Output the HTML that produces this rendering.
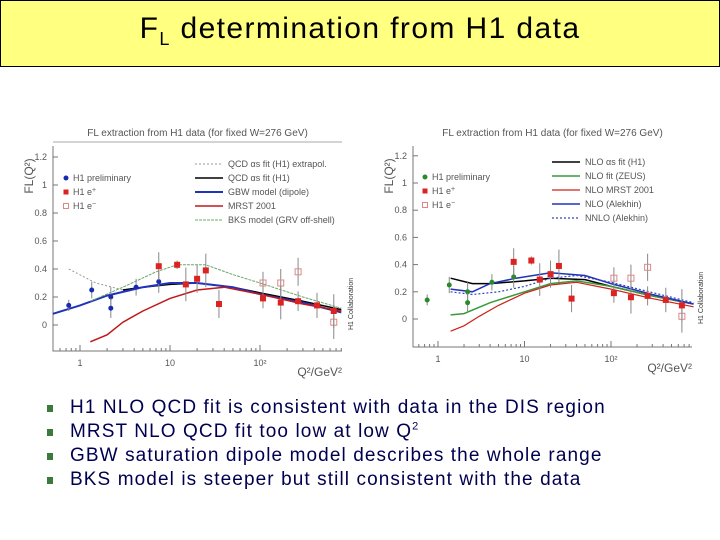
<!DOCTYPE html>
<html><head><meta charset="utf-8"><style>
body{margin:0;background:#fff;width:720px;height:540px;overflow:hidden;font-family:"Liberation Sans",sans-serif}
#hdr{position:absolute;left:0;top:0;width:718px;height:65px;background:#ffff80;border:1px solid #000}
#hdr span{position:absolute;left:0;width:100%;top:11px;text-align:center;font-size:30px;letter-spacing:1.4px;color:#000}
#bul{position:absolute;left:45px;top:396px;color:#000050;font-size:19px;letter-spacing:1.1px;line-height:24px}
.b{position:relative;padding-left:25px}
.b i{position:absolute;left:2px;top:9px;width:6px;height:7px;background:#3a7a3a}
svg{position:absolute;left:0;top:0}
</style></head><body>
<div id="hdr"><span>F<sub style="font-size:18px">L</sub> determination from H1 data</span></div>
<svg id="s" width="720" height="540"></svg>
<div id="bul">
<div class="b"><i></i>H1 NLO QCD fit is consistent with data in the DIS region</div>
<div class="b"><i></i>MRST NLO QCD fit too low at low Q<sup style="font-size:11px;line-height:0">2</sup></div>
<div class="b"><i></i>GBW saturation dipole model describes the whole range</div>
<div class="b"><i></i>BKS model is steeper but still consistent with the data</div>
</div>
<script>
const prelimQ=[0.75,1.35,2.2,2.2,4.2,7.5];
const prelimF=[0.14,0.25,0.20,0.12,0.27,0.31];
const prelimE=[0.04,0.06,0.07,0.07,0.06,0.08];
const epQ=[7.5,12,15,20,25,35,108,170,265,430,660];
const epF=[0.42,0.43,0.29,0.33,0.39,0.15,0.19,0.16,0.17,0.14,0.10];
const epE=[0.10,0.03,0.12,0.10,0.12,0.10,0.07,0.12,0.07,0.09,0.12];
const emQ=[108,170,265,660];
const emF=[0.30,0.30,0.38,0.02];
const emE=[0.08,0.10,0.10,0.12];
const yTicks=[0,0.2,0.4,0.6,0.8,1,1.2];
const yTickLabels=["0","0.2","0.4","0.6","0.8","1","1.2"];
const xTicks=[1,10,100];
const xTickLabels=["1","10","10²"];
// left panel curves
const L_extrapQ=[0.75,1.5,3,5];const L_extrapF=[0.40,0.30,0.25,0.27];
const L_h1Q=[3,5,10,20,50,100,300,800];const L_h1F=[0.25,0.27,0.29,0.30,0.27,0.23,0.17,0.11];
const L_gbwQ=[0.5,1,2,5,10,20,50,100,300,800];const L_gbwF=[0.08,0.14,0.21,0.27,0.30,0.30,0.27,0.22,0.16,0.09];
const L_mrstQ=[1.3,2,3,5,10,20,40,100,300,800];const L_mrstF=[-0.12,-0.07,0.02,0.10,0.19,0.25,0.27,0.22,0.15,0.10];
const L_bksQ=[1.3,3,7,12,25,50,100,300,800];const L_bksF=[0.17,0.27,0.38,0.43,0.43,0.36,0.30,0.20,0.12];
// right panel curves
const R_h1Q=[1.4,2.5,4,10,20,50,100,300,900];const R_h1F=[0.30,0.26,0.26,0.28,0.30,0.29,0.24,0.17,0.11];
const R_zeusQ=[1.4,2,4,10,20,40,100,300,900];const R_zeusF=[0.03,0.04,0.12,0.20,0.26,0.28,0.24,0.17,0.11];
const R_mrstQ=[1.4,2,3,5,10,20,40,100,300,900];const R_mrstF=[-0.09,-0.05,0.02,0.10,0.19,0.25,0.27,0.22,0.15,0.09];
const R_alekQ=[1.4,2.5,4,8,20,50,100,300,900];const R_alekF=[0.22,0.20,0.26,0.30,0.34,0.32,0.26,0.18,0.11];
const R_nnloQ=[1.4,2.5,5,10,20,40,100,900];const R_nnloF=[0.20,0.18,0.20,0.24,0.30,0.32,0.27,0.12];

const S=document.getElementById('s');const NS='http://www.w3.org/2000/svg';
function mk(t,a,p){const e=document.createElementNS(NS,t);for(const k in a)e.setAttribute(k,a[k]);(p||S).appendChild(e);return e;}
function panel(P,name){
 const g=mk('g',{});
 
 
 const X=q=>P.x1+(Math.log10(q))*P.dec, Y=v=>P.y0-v*P.ppu;
 const ax=mk('path',{d:`M${P.l},${P.top}V${P.b}H${P.r}`,stroke:'#777',fill:'none','stroke-width':1},g);
 
 yTicks.forEach((v,i)=>{mk('line',{x1:P.l,x2:P.l+5,y1:Y(v),y2:Y(v),stroke:'#777'},g);
  const t=mk('text',{x:P.l-6,y:Y(v)+3,'text-anchor':'end','font-size':9,fill:'#555'},g);t.textContent=yTickLabels[i];
  });
 for(let d=-1;d<3;d++)for(let m=1;m<10;m++){const q=m*Math.pow(10,d);const x=X(q);if(x<P.l||x>P.r)continue;
  mk('line',{x1:x,x2:x,y1:P.b,y2:P.b-(m==1?6:3),stroke:'#777'},g);}
 xTicks.forEach((q,i)=>{const t=mk('text',{x:X(q),y:P.b+15,'text-anchor':'middle','font-size':9,fill:'#555'},g);t.textContent=xTickLabels[i];
  });
 const xt=mk('text',{x:P.r,y:P.b+25,'text-anchor':'end','font-size':12,fill:'#555'},g);xt.textContent='Q²/GeV²';
 
 const yt=mk('text',{transform:`translate(${P.l-20},${P.top+30}) rotate(-90)`,'text-anchor':'middle','font-size':12,fill:'#555'},g);yt.textContent='FL(Q²)';
 
 const tt=mk('text',{x:(P.l+P.r)/2,y:P.top-10,'text-anchor':'middle','font-size':10,fill:'#555'},g);tt.textContent='FL extraction from H1 data (for fixed W=276 GeV)';
 
 if(P.rule)mk('line',{x1:P.l,x2:P.r,y1:P.top-4,y2:P.top-4,stroke:'#aaa'},g);
 const ct=mk('text',{transform:`translate(${P.collX},${P.y0+5}) rotate(-90)`,'font-size':7,fill:'#333'},g);ct.textContent='H1 Collaboration';
 
 P.curves.forEach(c=>{const d=c.q.map((q,i)=>(i?'L':'M')+X(q).toFixed(1)+','+Y(c.f[i]).toFixed(1)).join('');
  const p=mk('path',{d,stroke:c.col,fill:'none','stroke-width':c.w,'stroke-dasharray':c.dash||''},g);
  });
 function pts(Q,F,E,col,open,shape,nm){Q.forEach((q,i)=>{
  mk('line',{x1:X(q),x2:X(q),y1:Y(F[i]-E[i]),y2:Y(F[i]+E[i]),stroke:'#888'},g);
  let m;if(shape=='c')m=mk('circle',{cx:X(q),cy:Y(F[i]),r:2.5,fill:col},g);
  else m=mk('rect',{x:X(q)-3,y:Y(F[i])-3,width:6,height:6,fill:open?'none':col,stroke:open?'#d88':'none'},g);
  });}
 pts(emQ,emF,emE,'#c22',true,'s','point-h1-eminus');
 pts(prelimQ,prelimF,prelimE,P.prelimCol,false,'c','point-h1-preliminary');
 pts(epQ,epF,epE,'#d22',false,'s','point-h1-eplus');
 const ml=[['c',P.prelimCol,'H1 preliminary',''],['s','#d22','H1 e','+'],['o','#c22','H1 e','−']];
 ml.forEach((m,i)=>{const y=P.mLegY+i*14;
  if(m[0]=='c')mk('circle',{cx:P.mLegX,cy:y,r:2.5,fill:m[1]},g);else mk('rect',{x:P.mLegX-2.5,y:y-2.5,width:5,height:5,fill:m[0]=='o'?'none':m[1],stroke:m[0]=='o'?'#d88':'none'},g);
  const t=mk('text',{x:P.mLegX+7,y:y+3,'font-size':9,fill:'#555'},g);t.textContent=m[2];
  if(m[3]){const s=mk('tspan',{dy:-3,'font-size':7},t);s.textContent=m[3];}
  });
 P.curves.forEach((c,i)=>{const y=P.lLegY+i*14;mk('line',{x1:P.lLegX,x2:P.lLegX+28,y1:y,y2:y,stroke:c.col,'stroke-width':c.w,'stroke-dasharray':c.dash||''},g);
  const t=mk('text',{x:P.lLegX+33,y:y+3,'font-size':9,fill:'#555'},g);t.textContent=c.label;
  });
}
panel({l:53,r:342,top:146,b:351,x1:80,dec:90,y0:325,ppu:140,rule:true,collX:353,prelimCol:'#1a2ab0',mLegX:66,mLegY:178,lLegX:195,lLegY:164,
 curves:[{q:L_extrapQ,f:L_extrapF,col:'#999',w:1,dash:'2,2',name:'curve-qcd-extrapol',label:'QCD αs fit (H1) extrapol.'},
 {q:L_h1Q,f:L_h1F,col:'#000',w:1.5,name:'curve-qcd-fit',label:'QCD αs fit (H1)'},
 {q:L_gbwQ,f:L_gbwF,col:'#2233bb',w:2,name:'curve-gbw',label:'GBW model (dipole)'},
 {q:L_mrstQ,f:L_mrstF,col:'#c0181a',w:1.5,name:'curve-mrst',label:'MRST 2001'},
 {q:L_bksQ,f:L_bksF,col:'#6aa86a',w:1,dash:'3,1',name:'curve-bks',label:'BKS model (GRV off-shell)'}]},'left-chart');
panel({l:413,r:692,top:146,b:347,x1:438,dec:86.5,y0:319,ppu:136,rule:false,collX:703,prelimCol:'#2a8a2a',mLegX:425,mLegY:177,lLegX:552,lLegY:162,
 curves:[{q:R_h1Q,f:R_h1F,col:'#000',w:1.5,name:'curve-nlo-h1',label:'NLO αs fit (H1)'},
 {q:R_zeusQ,f:R_zeusF,col:'#3a9a3a',w:1.5,name:'curve-nlo-zeus',label:'NLO fit (ZEUS)'},
 {q:R_mrstQ,f:R_mrstF,col:'#d0201a',w:1.2,name:'curve-nlo-mrst',label:'NLO MRST 2001'},
 {q:R_alekQ,f:R_alekF,col:'#2233bb',w:1.5,name:'curve-nlo-alekhin',label:'NLO (Alekhin)'},
 {q:R_nnloQ,f:R_nnloF,col:'#3344bb',w:1.2,dash:'2,2',name:'curve-nnlo-alekhin',label:'NNLO (Alekhin)'}]},'right-chart');
</script>
</body></html>
